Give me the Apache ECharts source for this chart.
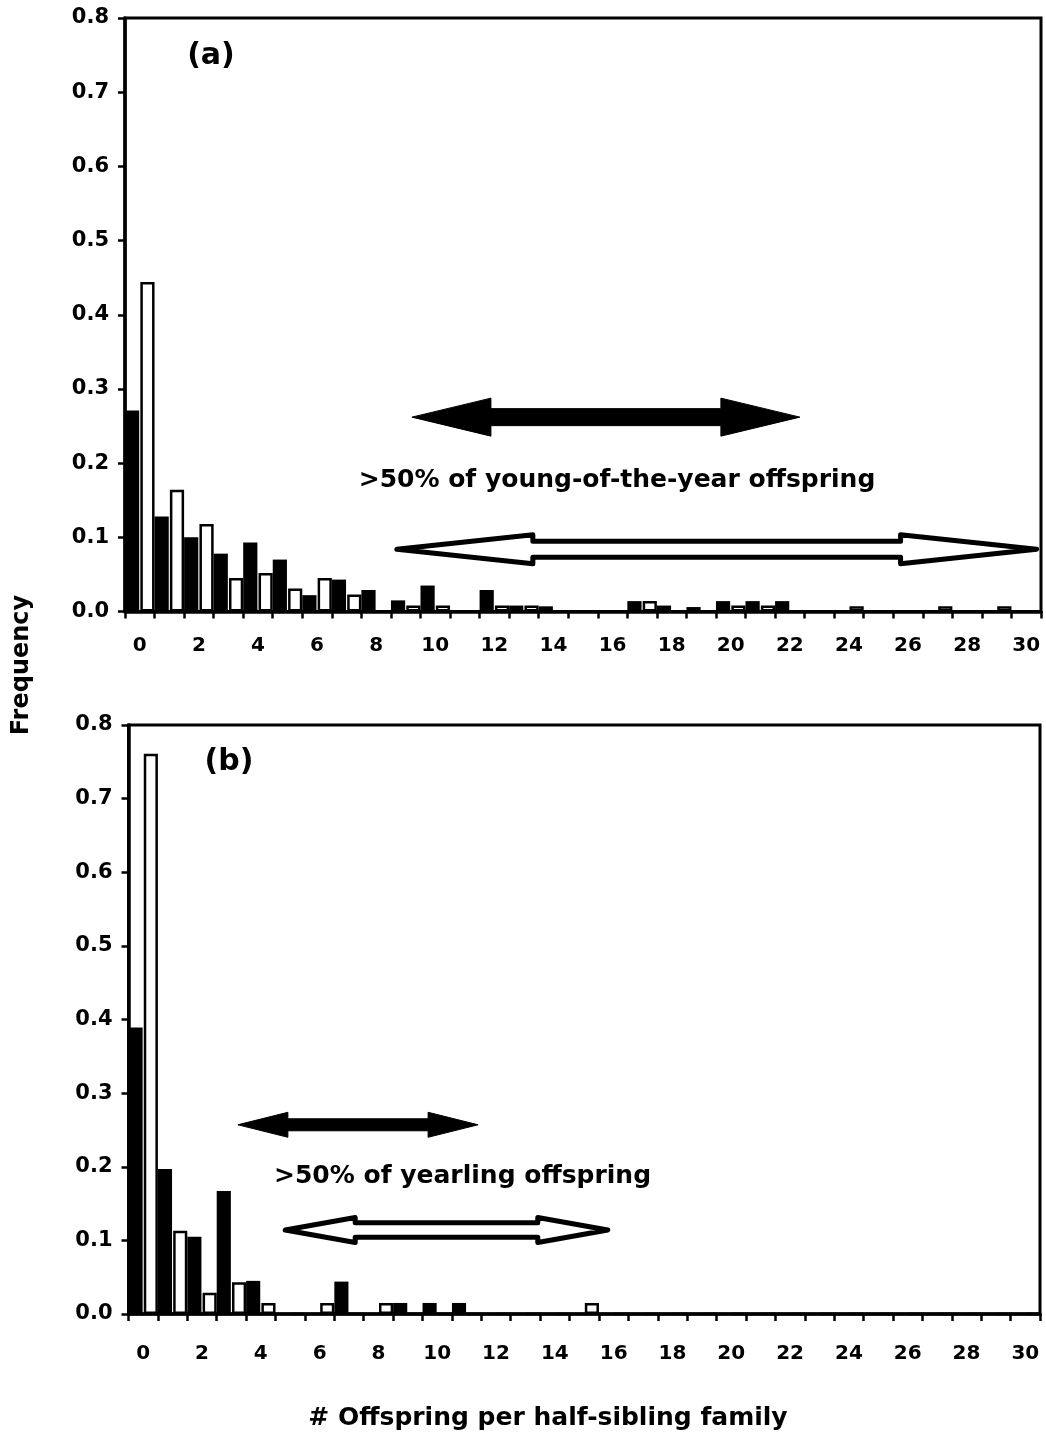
<!DOCTYPE html>
<html>
<head>
<meta charset="utf-8">
<title>Offspring per half-sibling family</title>
<script src="https://cdn.jsdelivr.net/npm/echarts@6/dist/echarts.min.js"></script>
<style>
  html, body { margin: 0; padding: 0; background: #fff; }
  #chart { width: 1046px; height: 1441px; }
</style>
</head>
<body>
<div id="chart"></div>
<script>
// Number of offspring per half-sibling family (x categories)
const categories = ['0','1','2','3','4','5','6','7','8','9','10','11','12','13','14','15',
  '16','17','18','19','20','21','22','23','24','25','26','27','28','29','30'];

// (a) young-of-the-year: filled and open bars
const youngFilled = [0.271, 0.128, 0.100, 0.078, 0.093, 0.070, 0.022, 0.043, 0.029, 0.015,
  0.035, 0, 0.029, 0.008, 0.007, 0, 0, 0.014, 0.008, 0.006,
  0.014, 0.014, 0.014, 0, 0, 0, 0, 0, 0, 0, 0];
const youngOpen = [0.444, 0.164, 0.118, 0.045, 0.052, 0.031, 0.045, 0.023, 0, 0.008,
  0.008, 0, 0.008, 0.008, 0, 0, 0, 0.014, 0, 0,
  0.008, 0.008, 0, 0, 0.007, 0, 0, 0.007, 0, 0.007, 0];

// (b) yearlings: filled and open bars
const yearlingFilled = [0.389, 0.197, 0.105, 0.167, 0.045, 0, 0, 0.044, 0, 0.015,
  0.015, 0.015, 0, 0, 0, 0, 0, 0, 0, 0,
  0, 0, 0, 0, 0, 0, 0, 0, 0, 0, 0];
const yearlingOpen = [0.761, 0.113, 0.029, 0.043, 0.015, 0, 0.015, 0, 0.015, 0,
  0, 0, 0, 0, 0, 0.015, 0, 0, 0, 0,
  0, 0, 0, 0, 0, 0, 0, 0, 0, 0, 0];

const Y_MAX = 0.8;
const Y_STEP = 0.1;
const FONT = '"DejaVu Sans", "Liberation Sans", Arial, sans-serif';

// plot areas of the two panels
const layouts = [
  { left: 125, top: 18, width: 916, height: 593.5 },
  { left: 128.5, top: 725, width: 911.5, height: 589 }
];

// axis units -> pixels: u counts categories from the left edge, v is frequency
function toPx(panel, u, v) {
  const g = layouts[panel];
  return [g.left + u * g.width / categories.length, g.top + g.height * (1 - v / Y_MAX)];
}

function arrowPoints(x0, x1, y, hl, hh, sh) {
  return [
    [x0, y], [x0 + hl, y - hh / 2], [x0 + hl, y - sh / 2], [x1 - hl, y - sh / 2],
    [x1 - hl, y - hh / 2], [x1, y], [x1 - hl, y + hh / 2], [x1 - hl, y + sh / 2],
    [x0 + hl, y + sh / 2], [x0 + hl, y + hh / 2]
  ];
}

// range arrows, given in axis units; head and shaft sizes in pixels
const arrows = [
  { panel: 0, from: 9.71, to: 22.84, at: 0.262, hl: 79, hh: 38, sh: 17, filled: true },
  { panel: 0, from: 9.20, to: 30.85, at: 0.084, hl: 136, hh: 29, sh: 16, filled: false },
  { panel: 1, from: 3.72, to: 11.89, at: 0.257, hl: 50, hh: 25, sh: 12, filled: true },
  { panel: 1, from: 5.33, to: 16.30, at: 0.114, hl: 70, hh: 25, sh: 14.5, filled: false }
];

const notes = [
  { panel: 0, u: 16.65, v: 0.177, text: '>50% of young-of-the-year offspring', size: 25 },
  { panel: 1, u: 11.36, v: 0.187, text: '>50% of yearling offspring', size: 25 },
  { panel: 0, u: 2.91, v: 0.749, text: '(a)', size: 30 },
  { panel: 1, u: 3.42, v: 0.750, text: '(b)', size: 30 }
];

const graphics = [];
arrows.forEach(function (a) {
  const p0 = toPx(a.panel, a.from, a.at);
  const p1 = toPx(a.panel, a.to, a.at);
  graphics.push({
    type: 'polygon',
    z: 50,
    shape: { points: arrowPoints(p0[0], p1[0], p0[1], a.hl, a.hh, a.sh) },
    style: a.filled
      ? { fill: '#000', stroke: '#000', lineWidth: 1 }
      : { fill: '#fff', stroke: '#000', lineWidth: 5, lineJoin: 'round' }
  });
});
notes.forEach(function (n) {
  const p = toPx(n.panel, n.u, n.v);
  graphics.push({
    type: 'text',
    z: 50,
    x: p[0],
    y: p[1],
    style: {
      text: n.text, fill: '#000', fontSize: n.size, fontWeight: 'bold', fontFamily: FONT,
      align: 'center', verticalAlign: 'middle'
    }
  });
});
graphics.push({
  type: 'text', z: 50, x: 22, y: 665, rotation: Math.PI / 2,
  style: {
    text: 'Frequency', fill: '#000', fontSize: 24, fontWeight: 'bold', fontFamily: FONT,
    align: 'center', verticalAlign: 'middle'
  }
});
graphics.push({
  type: 'text', z: 50, x: 548, y: 1418,
  style: {
    text: '# Offspring per half-sibling family', fill: '#000', fontSize: 25, fontWeight: 'bold',
    fontFamily: FONT, align: 'center', verticalAlign: 'middle'
  }
});

function xAxisFor(i, margin) {
  return {
    type: 'category', gridIndex: i, data: categories, boundaryGap: true,
    axisLine: { show: true, onZero: false, lineStyle: { color: '#000', width: 3.5 } },
    axisTick: { show: true, interval: 0, alignWithLabel: false, length: 7,
      lineStyle: { color: '#000', width: 2.5 } },
    axisLabel: { interval: 1, margin: margin, color: '#000', fontSize: 20, fontWeight: 'bold',
      fontFamily: FONT },
    splitLine: { show: false }
  };
}
function yAxisFor(i) {
  return {
    type: 'value', gridIndex: i, min: 0, max: Y_MAX, interval: Y_STEP,
    axisLine: { show: true, lineStyle: { color: '#000', width: 3.5 } },
    axisTick: { show: true, length: 7, lineStyle: { color: '#000', width: 2.5 } },
    axisLabel: { margin: 16, color: '#000', fontSize: 21, fontWeight: 'bold', fontFamily: FONT,
      formatter: function (v) { return v.toFixed(1); } },
    splitLine: { show: false }
  };
}
function barSeries(i, name, values, filled) {
  return {
    type: 'bar', name: name, xAxisIndex: i, yAxisIndex: i, data: values,
    barGap: '8%', barCategoryGap: '0%',
    itemStyle: filled
      ? { color: '#000', borderColor: '#000', borderWidth: 0 }
      : { color: '#fff', borderColor: '#000', borderWidth: 2.5 },
    emphasis: { disabled: true },
    animation: false
  };
}

const chart = echarts.init(document.getElementById('chart'), null, { renderer: 'canvas' });
chart.setOption({
  animation: false,
  backgroundColor: '#fff',
  grid: layouts.map(function (g) {
    return Object.assign({ show: true, borderColor: '#000', borderWidth: 3,
      backgroundColor: 'transparent', containLabel: false }, g);
  }),
  xAxis: [xAxisFor(0, 24), xAxisFor(1, 30)],
  yAxis: [yAxisFor(0), yAxisFor(1)],
  series: [
    barSeries(0, 'Young-of-the-year (filled)', youngFilled, true),
    barSeries(0, 'Young-of-the-year (open)', youngOpen, false),
    barSeries(1, 'Yearling (filled)', yearlingFilled, true),
    barSeries(1, 'Yearling (open)', yearlingOpen, false)
  ],
  graphic: graphics
});
</script>
</body>
</html>
